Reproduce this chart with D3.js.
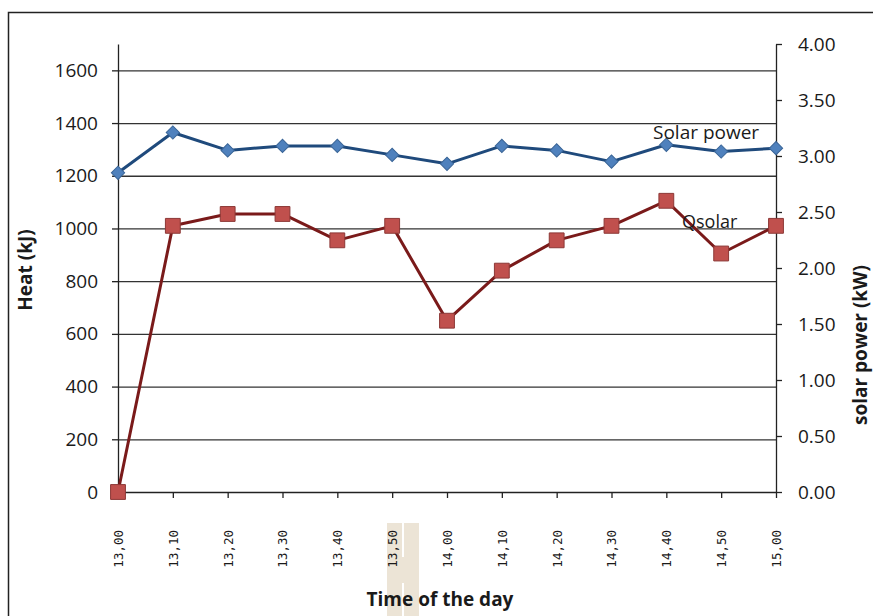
<!DOCTYPE html>
<html>
<head>
<meta charset="utf-8">
<script src="https://cdn.jsdelivr.net/npm/d3@7/dist/d3.min.js"></script>
<style>
  html, body { margin: 0; padding: 0; background: #fff; }
  svg { display: block; }
  text { font-family: "Open Sans", "Noto Sans", sans-serif; fill: #1a1a1a; }
</style>
</head>
<body>
<svg id="chart" width="873" height="616"></svg>
<script>
// Time of the day (category labels on the x axis)
const times = ["13,00", "13,10", "13,20", "13,30", "13,40", "13,50", "14,00",
               "14,10", "14,20", "14,30", "14,40", "14,50", "15,00"];

// Solar power in kW (right axis)
const solarPower = [2.85, 3.21, 3.05, 3.09, 3.09, 3.01, 2.93,
                    3.09, 3.05, 2.95, 3.10, 3.04, 3.07];

// Qsolar heat in kJ (left axis)
const qSolar = [0, 1010, 1055, 1055, 955, 1010, 650,
                840, 955, 1010, 1105, 905, 1010];

// Axis ticks
const heatTicks = [0, 200, 400, 600, 800, 1000, 1200, 1400, 1600];
const powerTicks = [0, 0.5, 1, 1.5, 2, 2.5, 3, 3.5, 4];
const heatMax = 1700;
const powerMax = 4;

const svg = d3.select("#chart");

const plotLeft = 118, plotRight = 776, plotTop = 44, plotBottom = 492;

// Outer frame
svg.append("rect")
  .attr("x", 8.5).attr("y", 12.5)
  .attr("width", 900).attr("height", 700)
  .attr("fill", "none").attr("stroke", "#222").attr("stroke-width", 1.5);

// Faint beige mark behind the x axis title
const mark = svg.append("g").attr("fill", "#ece4d6");
mark.append("rect").attr("x", 387).attr("y", 523).attr("width", 15).attr("height", 93);
mark.append("rect").attr("x", 404).attr("y", 523).attr("width", 15).attr("height", 93);
mark.append("rect").attr("x", 387).attr("y", 557).attr("width", 32).attr("height", 26);

const x = d3.scalePoint().domain(times).range([plotLeft, plotRight]);
const yHeat = d3.scaleLinear().domain([0, heatMax]).range([plotBottom, plotTop]);
const yPower = d3.scaleLinear().domain([0, powerMax]).range([plotBottom, plotTop]);

// Horizontal gridlines
svg.append("g")
  .attr("transform", `translate(${plotLeft},0)`)
  .call(d3.axisLeft(yHeat).tickValues(heatTicks.filter(d => d > 0))
        .tickSize(-(plotRight - plotLeft)).tickFormat(""))
  .call(g => g.select(".domain").remove())
  .call(g => g.selectAll("line").attr("stroke", "#333").attr("stroke-width", 1.3));

// Left axis
const axL = svg.append("g")
  .attr("transform", `translate(${plotLeft},0)`)
  .call(d3.axisLeft(yHeat).tickValues(heatTicks).tickFormat(d3.format("d"))
        .tickSize(6).tickSizeOuter(0).tickPadding(14));
axL.select(".domain").attr("stroke", "#222").attr("stroke-width", 1.3);
axL.selectAll(".tick line").attr("stroke", "#222").attr("stroke-width", 1.3);
axL.selectAll("text").style("font-size", "19px").attr("fill", "#111")
  .style("font-family", "'Open Sans', sans-serif");

// Right axis
const axR = svg.append("g")
  .attr("transform", `translate(${plotRight},0)`)
  .call(d3.axisRight(yPower).tickValues(powerTicks).tickFormat(d3.format(".2f"))
        .tickSize(6).tickSizeOuter(0).tickPadding(16));
axR.select(".domain").attr("stroke", "#222").attr("stroke-width", 1.3);
axR.selectAll(".tick line").attr("stroke", "#222").attr("stroke-width", 1.3);
axR.selectAll("text").style("font-size", "19px").attr("fill", "#111")
  .style("font-family", "'Open Sans', sans-serif");

// Bottom axis with vertical labels
const axB = svg.append("g")
  .attr("transform", `translate(0,${plotBottom})`)
  .call(d3.axisBottom(x).tickSize(6).tickSizeOuter(0));
axB.select(".domain").attr("stroke", "#222").attr("stroke-width", 1.3);
axB.selectAll(".tick line").attr("stroke", "#222").attr("stroke-width", 1.3);
axB.selectAll("text")
  .attr("transform", "rotate(-90)")
  .attr("text-anchor", "end")
  .attr("x", -38).attr("y", 0).attr("dy", "0.35em")
  .style("font-size", "12.5px")
  .style("font-family", "'DejaVu Sans Mono', monospace")
  .attr("fill", "#333");

// Qsolar line and square markers
svg.append("path")
  .datum(qSolar)
  .attr("fill", "none").attr("stroke", "#7a1a1a").attr("stroke-width", 3)
  .attr("stroke-linejoin", "round")
  .attr("d", d3.line().x((d, i) => x(times[i])).y(d => yHeat(d)));

svg.append("g").selectAll("path")
  .data(qSolar).join("path")
  .attr("transform", (d, i) => `translate(${x(times[i])},${yHeat(d)})`)
  .attr("d", d3.symbol(d3.symbolSquare, 220)())
  .attr("fill", "#c0504d").attr("stroke", "#8c3836").attr("stroke-width", 1);

// Solar power line and diamond markers
svg.append("path")
  .datum(solarPower)
  .attr("fill", "none").attr("stroke", "#1f4a7c").attr("stroke-width", 3)
  .attr("stroke-linejoin", "round")
  .attr("d", d3.line().x((d, i) => x(times[i])).y(d => yPower(d)));

svg.append("g").selectAll("path")
  .data(solarPower).join("path")
  .attr("transform", (d, i) => `translate(${x(times[i])},${yPower(d)}) rotate(45)`)
  .attr("d", d3.symbol(d3.symbolSquare, 88)())
  .attr("fill", "#4f81bd").attr("stroke", "#3a6597").attr("stroke-width", 1);

// Series labels
svg.append("text").attr("x", 653).attr("y", 139)
  .style("font-size", "19px").text("Solar power");
svg.append("text").attr("x", 682).attr("y", 228)
  .style("font-size", "18px").text("Qsolar");

// Axis titles
svg.append("text")
  .attr("transform", "translate(32,270) rotate(-90)")
  .attr("text-anchor", "middle")
  .style("font-size", "19px").style("font-weight", "bold")
  .text("Heat (kJ)");

svg.append("text")
  .attr("transform", "translate(867,345) rotate(-90)")
  .attr("text-anchor", "middle")
  .style("font-size", "19px").style("font-weight", "bold")
  .text("solar power (kW)");

svg.append("text")
  .attr("x", 440).attr("y", 606)
  .attr("text-anchor", "middle")
  .style("font-size", "19px").style("font-weight", "bold")
  .text("Time of the day");
</script>
</body>
</html>
